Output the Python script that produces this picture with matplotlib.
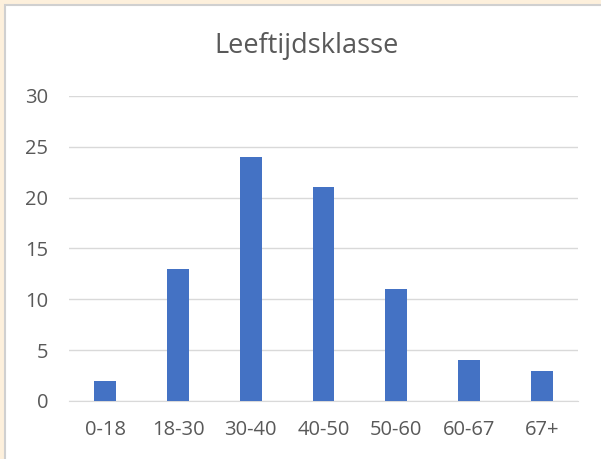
import matplotlib.pyplot as plt
from matplotlib.patches import Rectangle

# Leeftijdsklasse data
categories = ["0-18", "18-30", "30-40", "40-50", "50-60", "60-67", "67+"]
counts = [2, 13, 24, 21, 11, 4, 3]
yticks = [0, 5, 10, 15, 20, 25, 30]

plt.rcParams["font.family"] = ["Open Sans", "DejaVu Sans"]

W, H = 601, 459
fig = plt.figure(figsize=(W / 100, H / 100), dpi=100)
fig.patch.set_facecolor("#fdf0dc")

# white chart area with grey border, cut off at right/bottom
fig.patches.append(Rectangle((5 / W, -0.01), 1.02, 1 - 5 / H + 0.01,
                             transform=fig.transFigure, facecolor="white",
                             edgecolor="#d0d0d0", linewidth=1.5, zorder=-1))

ax = fig.add_axes([69 / W, 1 - 401 / H, 509 / W, 305 / H])
ax.set_facecolor("none")
x = range(len(categories))
ax.bar(x, counts, width=0.3, color="#4472c4", zorder=3)

ax.set_xlim(-0.5, len(categories) - 0.5)
ax.set_ylim(0, 30)
ax.set_yticks(yticks)
ax.set_xticks(list(x))
ax.set_xticklabels(categories)
ax.yaxis.grid(True, color="#d9d9d9", linewidth=1)
ax.tick_params(length=0, labelsize=14.5, colors="#595959")
ax.tick_params(axis="y", pad=15)
ax.tick_params(axis="x", pad=14)
for side in ["top", "right", "left"]:
    ax.spines[side].set_visible(False)
ax.spines["bottom"].set_color("#d9d9d9")

fig.text(307 / W, 1 - 46 / H, "Leeftijdsklasse", ha="center", va="center",
         fontsize=19.5, color="#595959")

fig.savefig("out.png", dpi=100)
